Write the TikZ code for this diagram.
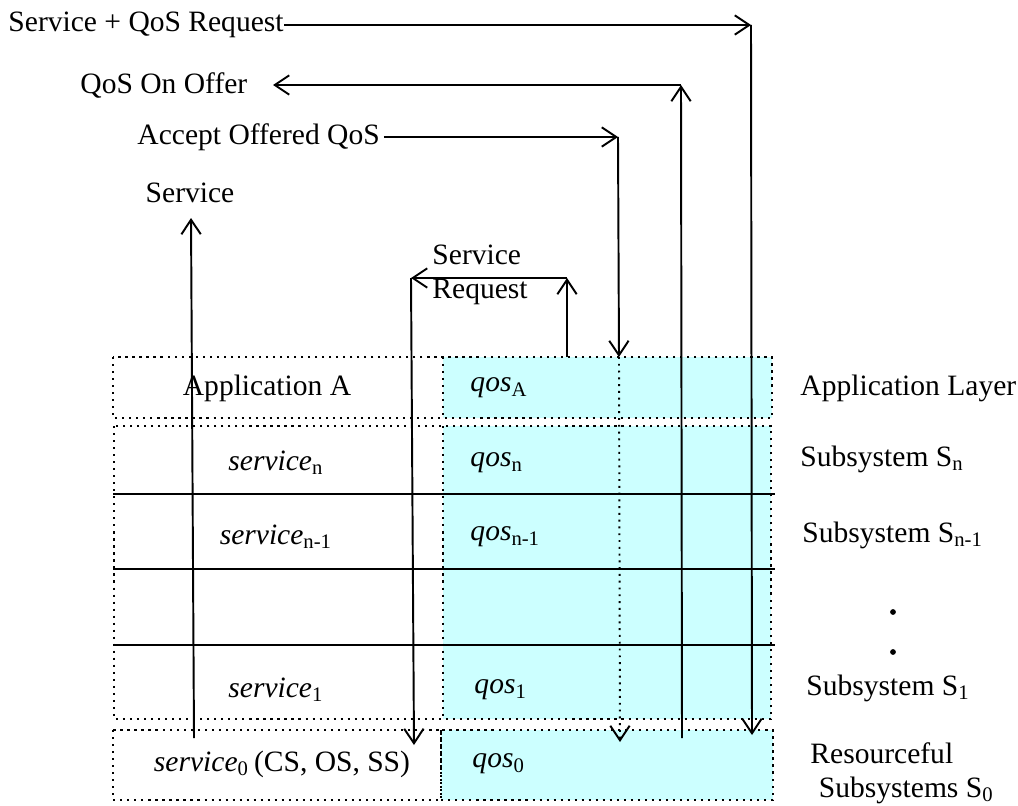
\documentclass[tikz,border=0pt]{standalone}
\usepackage{fontspec}
\setmainfont{Liberation Serif}
\usetikzlibrary{arrows.meta, positioning, calc}
\definecolor{qoscyan}{HTML}{CCFFFF}

\begin{document}
\begin{tikzpicture}[x=0.413pt, y=-0.413pt, font=\fontsize{12.2}{14}\selectfont,
    dotbox/.style={draw, dotted, line width=0.9pt},
    layerline/.style={draw, line width=0.9pt},
    flow/.style={line width=0.8pt, -{Straight Barb[length=6pt, width=8pt, line width=0.8pt]}},
    lbl/.style={inner sep=0pt, anchor=west},
    cell/.style={inner sep=0pt}]
  \useasboundingbox (0,0) rectangle (1018,806);

  % Felder qos (cyan)
  \fill[qoscyan] (443,357) rectangle (772,418);
  \fill[qoscyan] (443,426) rectangle (771,719);
  \fill[qoscyan] (441,730) rectangle (773,800);

  % Rahmen gepunktet
  \draw[dotbox] (113,357) rectangle (772,418);
  \draw[dotbox] (443,357) -- (443,418);
  \draw[dotbox] (114,426) rectangle (771,719);
  \draw[dotbox] (443,426) -- (443,719);
  \draw[dotbox] (113,730) rectangle (441,800);
  \draw[dotbox] (441,730) rectangle (773,800);

  % Schichtgrenzen
  \foreach \yy in {494,569,645}
    \draw[layerline] (113,\yy) -- (775,\yy);

  % Texte in den Zellen
  \node[cell] (appA) at (267,388) {Application A};
  \node[cell] (svcN) at (276,463) {\textit{service}\textsubscript{n}};
  \node[cell] (svcM) at (276,537) {\textit{service}\textsubscript{n-1}};
  \node[cell] (svcE) at (276,690) {\textit{service}\textsubscript{1}};
  \node[cell] (svcO) at (282,764) {\textit{service}\textsubscript{0}\,(CS, OS, SS)};
  \node[lbl] (qosA) at (470,388) {\textit{qos}\textsubscript{A}};
  \node[lbl] (qosN) at (470,463) {\textit{qos}\textsubscript{n}};
  \node[lbl] (qosM) at (470,537) {\textit{qos}\textsubscript{n-1}};
  \node[lbl] (qosE) at (474,690) {\textit{qos}\textsubscript{1}};
  \node[lbl] (qosO) at (472,764) {\textit{qos}\textsubscript{0}};

  % Beschriftung rechts
  \node[lbl] (layA) at (800,388) {Application Layer};
  \node[lbl] (layN) at (800,459) {Subsystem S\textsubscript{n}};
  \node[lbl] (layM) at (802,535) {Subsystem S\textsubscript{n-1}};
  \node[lbl] (layE) at (806,688) {Subsystem S\textsubscript{1}};
  \node[lbl, align=left] (layO) at (810,773) {Resourceful\\\hspace*{3.5pt}Subsystems S\textsubscript{0}};
  \fill (893,612) circle (1.2pt);
  \fill (893,652) circle (1.2pt);

  % Service + QoS Request
  \node[lbl] (sqr) at (8,25) {Service + QoS Request};
  \coordinate (sqrK) at (751,25);
  \coordinate (sqrE) at (752,735);
  \draw[flow] (sqr.east) -- (sqrK);
  \draw[flow] (sqrK) -- (sqrE);

  % QoS On Offer
  \node[lbl] (qoo) at (80,85) {QoS On Offer};
  \coordinate (qooK) at (681,85);
  \coordinate (qooB) at (682,738);
  \coordinate (qooT) at (273,85);
  \draw[flow] (qooB) -- (qooK);
  \draw[flow] (qooK) -- (qooT);

  % Accept Offered QoS
  \node[lbl] (aoq) at (137,137) {Accept Offered QoS};
  \coordinate (aoqK) at (618,137);
  \coordinate (aoqE) at (619,357);
  \draw[flow, shorten <=1.5pt] (aoq.east) -- (aoqK);
  \draw[flow] (aoqK) -- (aoqE);
  \coordinate (dotB) at (620,742);
  \draw[flow, dotted] (aoqE) -- (dotB);

  % Service
  \node[cell] (svc) at (190,193) {Service};
  \coordinate (svcB) at (194,738);
  \coordinate (svcT) at (191,218);
  \draw[flow] (svcB) -- (svcT);

  % Service Request
  \node[lbl, align=left] (sreq) at (432,275) {Service\\Request};
  \coordinate (srB) at (567,357);
  \coordinate (srR) at (567,278);
  \coordinate (srL) at (411,278);
  \coordinate (srE) at (414,745);
  \draw[flow] (srB) -- (srR);
  \draw[flow] (srR) -- (srL);
  \draw[flow] (srL) -- (srE);
\end{tikzpicture}
\end{document}
